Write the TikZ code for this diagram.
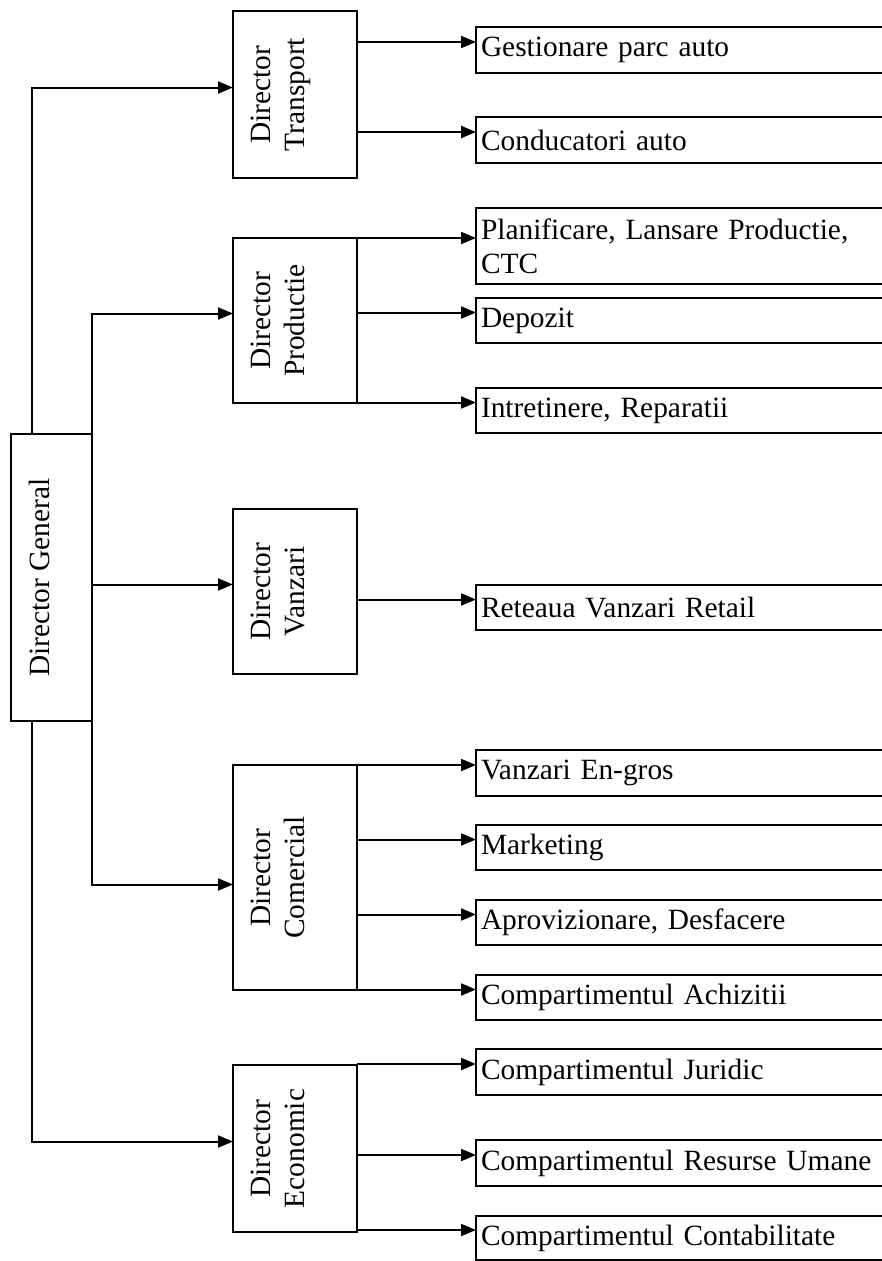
\documentclass[tikz,border=0pt]{standalone}
\usepackage{fontspec}
\setmainfont{Liberation Serif}
\usetikzlibrary{arrows.meta}

\begin{document}
\begin{tikzpicture}[x=1pt, y=-1pt,
		font=\fontsize{29.4pt}{34pt}\selectfont,
		dirbox/.style={draw, line width=2pt, outer sep=0pt, inner sep=0pt},
		vlabel/.style={rotate=90, anchor=north, align=center, inner sep=0pt},
		unitbox/.style={dirbox, anchor=west, text width=404pt, inner xsep=5pt, align=left},
		link/.style={line width=2pt, -{Triangle[length=15pt,width=12pt]}}]
		
		\clip (0,0) rectangle (882,1261);
		
		%%% Director General
		\node[dirbox, minimum width=81pt, minimum height=287pt] (gd) at (51.5,577.5) {};
		\node[vlabel] (gdtxt) at ([xshift=18pt]gd.west) {Director General};
		
		%%% directori
		\node[dirbox, minimum width=124pt, minimum height=167pt] (dT) at (295,94.5) {};
		\node[vlabel] (dTtxt) at ([xshift=18pt]dT.west) {Director\\Transport};
		\node[dirbox, minimum width=124pt, minimum height=165pt] (dP) at (295,320.5) {};
		\node[vlabel] (dPtxt) at ([xshift=18pt]dP.west) {Director\\Productie};
		\node[dirbox, minimum width=124pt, minimum height=165pt] (dV) at (295,591.5) {};
		\node[vlabel] (dVtxt) at ([xshift=18pt]dV.west) {Director\\Vanzari};
		\node[dirbox, minimum width=124pt, minimum height=225pt] (dC) at (295,877.5) {};
		\node[vlabel] (dCtxt) at ([xshift=18pt]dC.west) {Director\\Comercial};
		\node[dirbox, minimum width=124pt, minimum height=167pt] (dE) at (295,1148.5) {};
		\node[vlabel] (dEtxt) at ([xshift=18pt]dE.west) {Director\\Economic};
		
		%%% compartimente
		\node[unitbox, minimum height=46pt] (gest) at (476,50) {Gestionare parc auto};
		\node[unitbox, minimum height=46pt] (cond) at (476,140) {Conducatori auto};
		\node[unitbox, minimum height=76pt] (plan) at (476,246) {Planificare, Lansare Productie,\\CTC};
		\node[unitbox, minimum height=45pt] (depo) at (476,320.5) {Depozit};
		\node[unitbox, minimum height=45pt] (intr) at (476,410.5) {Intretinere, Reparatii};
		\node[unitbox, minimum height=45pt] (ret) at (476,607.5) {Reteaua Vanzari Retail};
		\node[unitbox, minimum height=46pt] (engros) at (476,773) {Vanzari En-gros};
		\node[unitbox, minimum height=45pt] (mark) at (476,847.5) {Marketing};
		\node[unitbox, minimum height=45pt] (aprov) at (476,922.5) {Aprovizionare, Desfacere};
		\node[unitbox, minimum height=45pt] (achiz) at (476,997.5) {Compartimentul Achizitii};
		\node[unitbox, minimum height=46pt] (jur) at (476,1072) {Compartimentul Juridic};
		\node[unitbox, minimum height=46pt] (rum) at (476,1163) {Compartimentul Resurse Umane};
		\node[unitbox, minimum height=44pt] (cont) at (476,1238) {Compartimentul Contabilitate};
		
		%%% Director General -> directori
		\draw[link] ([xshift=-20pt]gd.north) |- ([yshift=7pt]dT.west);
		\draw[link] (gd.north east) |- ([yshift=7pt]dP.west);
		\draw[link] ([yshift=7pt]dV.west -| gd.east) -- ([yshift=7pt]dV.west);
		\draw[link] (gd.south east) |- ([yshift=-7pt]dC.west);
		\draw[link] ([xshift=-20pt]gd.south) |- ([yshift=7pt]dE.west);
		
		%%% Transport
		\draw[link] ([yshift=8pt]gest.west -| dT.east) -- ([yshift=8pt]gest.west);
		\draw[link] ([yshift=8pt]cond.west -| dT.east) -- ([yshift=8pt]cond.west);
		
		%%% Productie
		\draw[link] ([yshift=8pt]plan.west -| dP.east) -- ([yshift=8pt]plan.west);
		\draw[link] ([yshift=8pt]depo.west -| dP.east) -- ([yshift=8pt]depo.west);
		\draw[link] ([yshift=8pt]intr.west -| dP.east) -- ([yshift=8pt]intr.west);
		
		%%% Vanzari
		\draw[link] ([yshift=8pt]ret.west -| dV.east) -- ([yshift=8pt]ret.west);
		
		%%% Comercial
		\draw[link] ([yshift=8pt]engros.west -| dC.east) -- ([yshift=8pt]engros.west);
		\draw[link] ([yshift=8pt]mark.west -| dC.east) -- ([yshift=8pt]mark.west);
		\draw[link] ([yshift=8pt]aprov.west -| dC.east) -- ([yshift=8pt]aprov.west);
		\draw[link] ([yshift=8pt]achiz.west -| dC.east) -- ([yshift=8pt]achiz.west);
		
		%%% Economic
		\draw[link] ([yshift=8pt]jur.west -| dE.east) -- ([yshift=8pt]jur.west);
		\draw[link] ([yshift=8pt]rum.west -| dE.east) -- ([yshift=8pt]rum.west);
		\draw[link] ([yshift=8pt]cont.west -| dE.east) -- ([yshift=8pt]cont.west);
		
	\end{tikzpicture}
\end{document}
